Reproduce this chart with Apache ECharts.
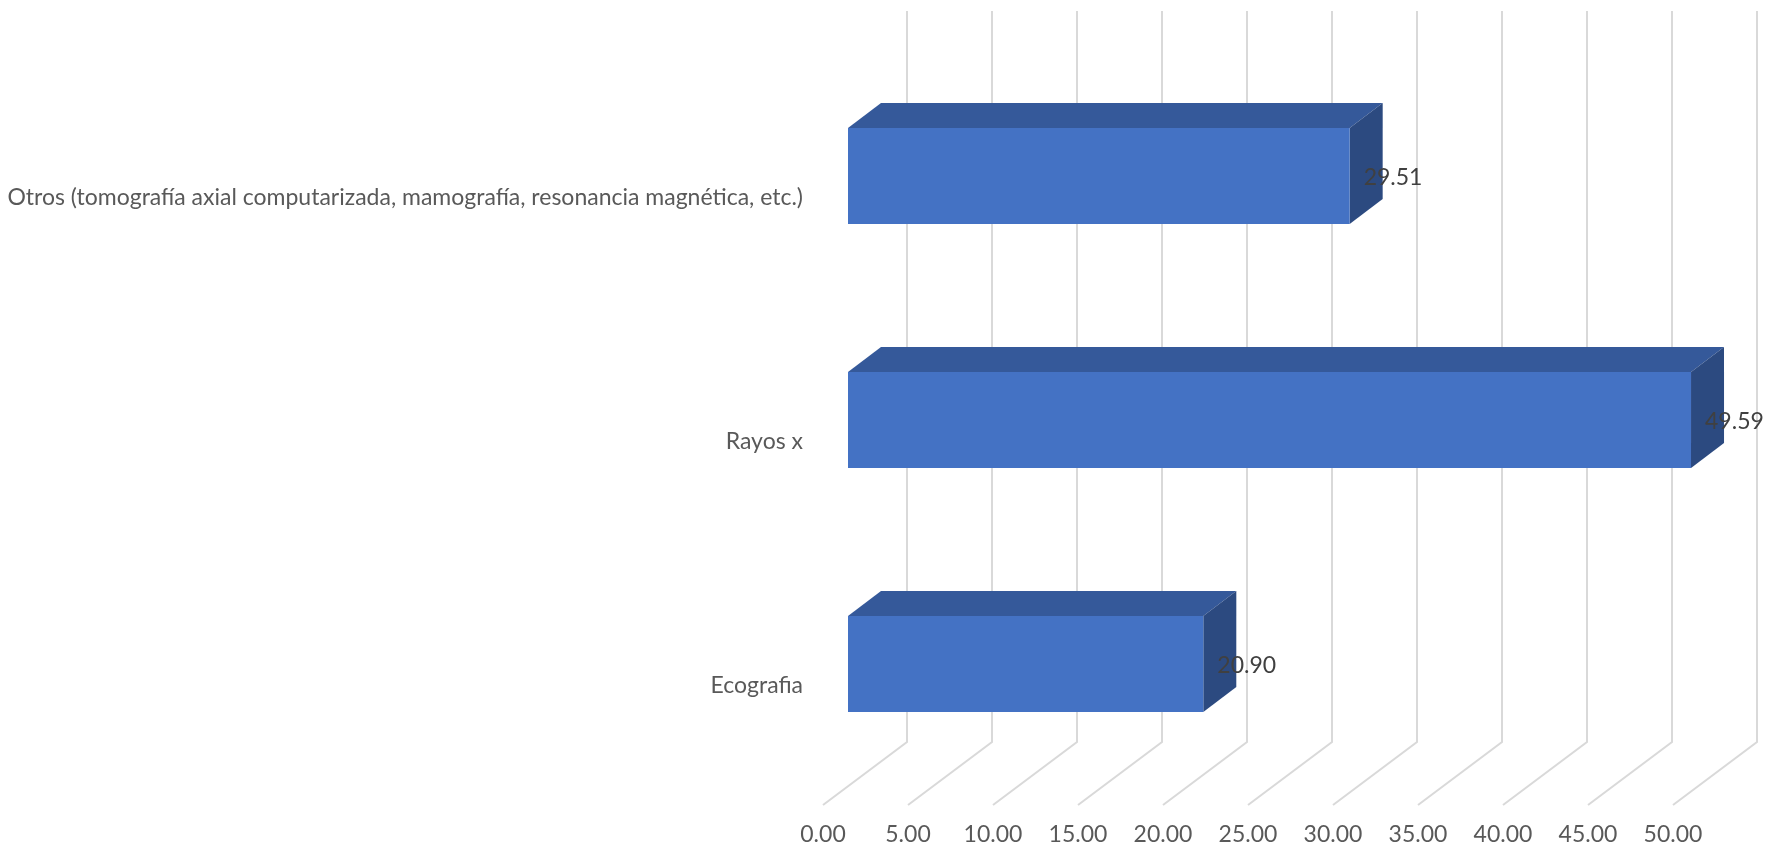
<!DOCTYPE html>
<html><head><meta charset="utf-8">
<script src="https://cdn.jsdelivr.net/npm/echarts@6/dist/echarts.min.js"></script>
<style>html,body{margin:0;padding:0;background:#fff}#c{width:1778px;height:850px}</style>
</head><body><div id="c"></div>
<script>
const categories = ['Ecografia', 'Rayos x', 'Otros (tomografía axial computarizada, mamografía, resonancia magnética, etc.)'];
const values = [20.90, 49.59, 29.51];
const ticks = [0, 5, 10, 15, 20, 25, 30, 35, 40, 45, 50];

const FONT = 'Lato';
const chart = echarts.init(document.getElementById('c'));

function renderGrid(params, api) {
  const t = api.value(0);
  const p = api.coord([t, 0]);
  const cs = params.coordSys;
  const x = p[0];
  const floorY = cs.y + cs.height - 3;
  return {
    type: 'polyline',
    shape: { points: [[x + 84, 11], [x + 84, floorY - 63], [x, floorY]] },
    style: { stroke: '#d9d9d9', lineWidth: 2, fill: null }
  };
}

function renderBar(params, api) {
  const cat = api.value(0);
  const v = api.value(1);
  const p0 = api.coord([0, cat]);
  const p1 = api.coord([v, cat]);
  const fx = 25, fy = -22, h = 96, dx = 33, dy = -25;
  const x0 = p0[0] + fx, x1 = p1[0] + fx;
  const yc = p0[1] + fy, yt = yc - h / 2, yb = yc + h / 2;
  return {
    type: 'group',
    children: [
      { type: 'polygon', shape: { points: [[x0, yt], [x0 + dx, yt + dy], [x1 + dx, yt + dy], [x1, yt]] }, style: { fill: '#35599A' } },
      { type: 'polygon', shape: { points: [[x1, yt], [x1 + dx, yt + dy], [x1 + dx, yb + dy], [x1, yb]] }, style: { fill: '#2C4A80' } },
      { type: 'rect', shape: { x: x0, y: yt, width: x1 - x0, height: h }, style: { fill: '#4472C4' } },
      { type: 'text', style: { text: v.toFixed(2), x: x1 + 14, y: yc + 2, verticalAlign: 'middle', align: 'left', fill: '#404040', font: '23px ' + FONT } }
    ]
  };
}

chart.setOption({
  backgroundColor: '#ffffff',
  animation: false,
  grid: { left: 823, right: 105, top: 76, bottom: 42, containLabel: false },
  xAxis: {
    type: 'value', min: 0, max: 50, interval: 5,
    axisLine: { show: false }, axisTick: { show: false }, splitLine: { show: false },
    axisLabel: { formatter: v => v.toFixed(2), color: '#595959', fontSize: 23, fontFamily: FONT, margin: 15 }
  },
  yAxis: {
    type: 'category', data: categories,
    axisLine: { show: false }, axisTick: { show: false }, splitLine: { show: false },
    axisLabel: { color: '#595959', fontSize: 23, fontFamily: FONT, margin: 20 }
  },
  series: [
    { type: 'custom', renderItem: renderGrid, data: ticks.map(t => [t, 0]), encode: { x: 0, y: 1 }, silent: true, z: 1 },
    { type: 'custom', renderItem: renderBar, data: values.map((v, i) => [i, v]), encode: { y: 0, x: 1 }, z: 2 }
  ]
});
</script></body></html>
